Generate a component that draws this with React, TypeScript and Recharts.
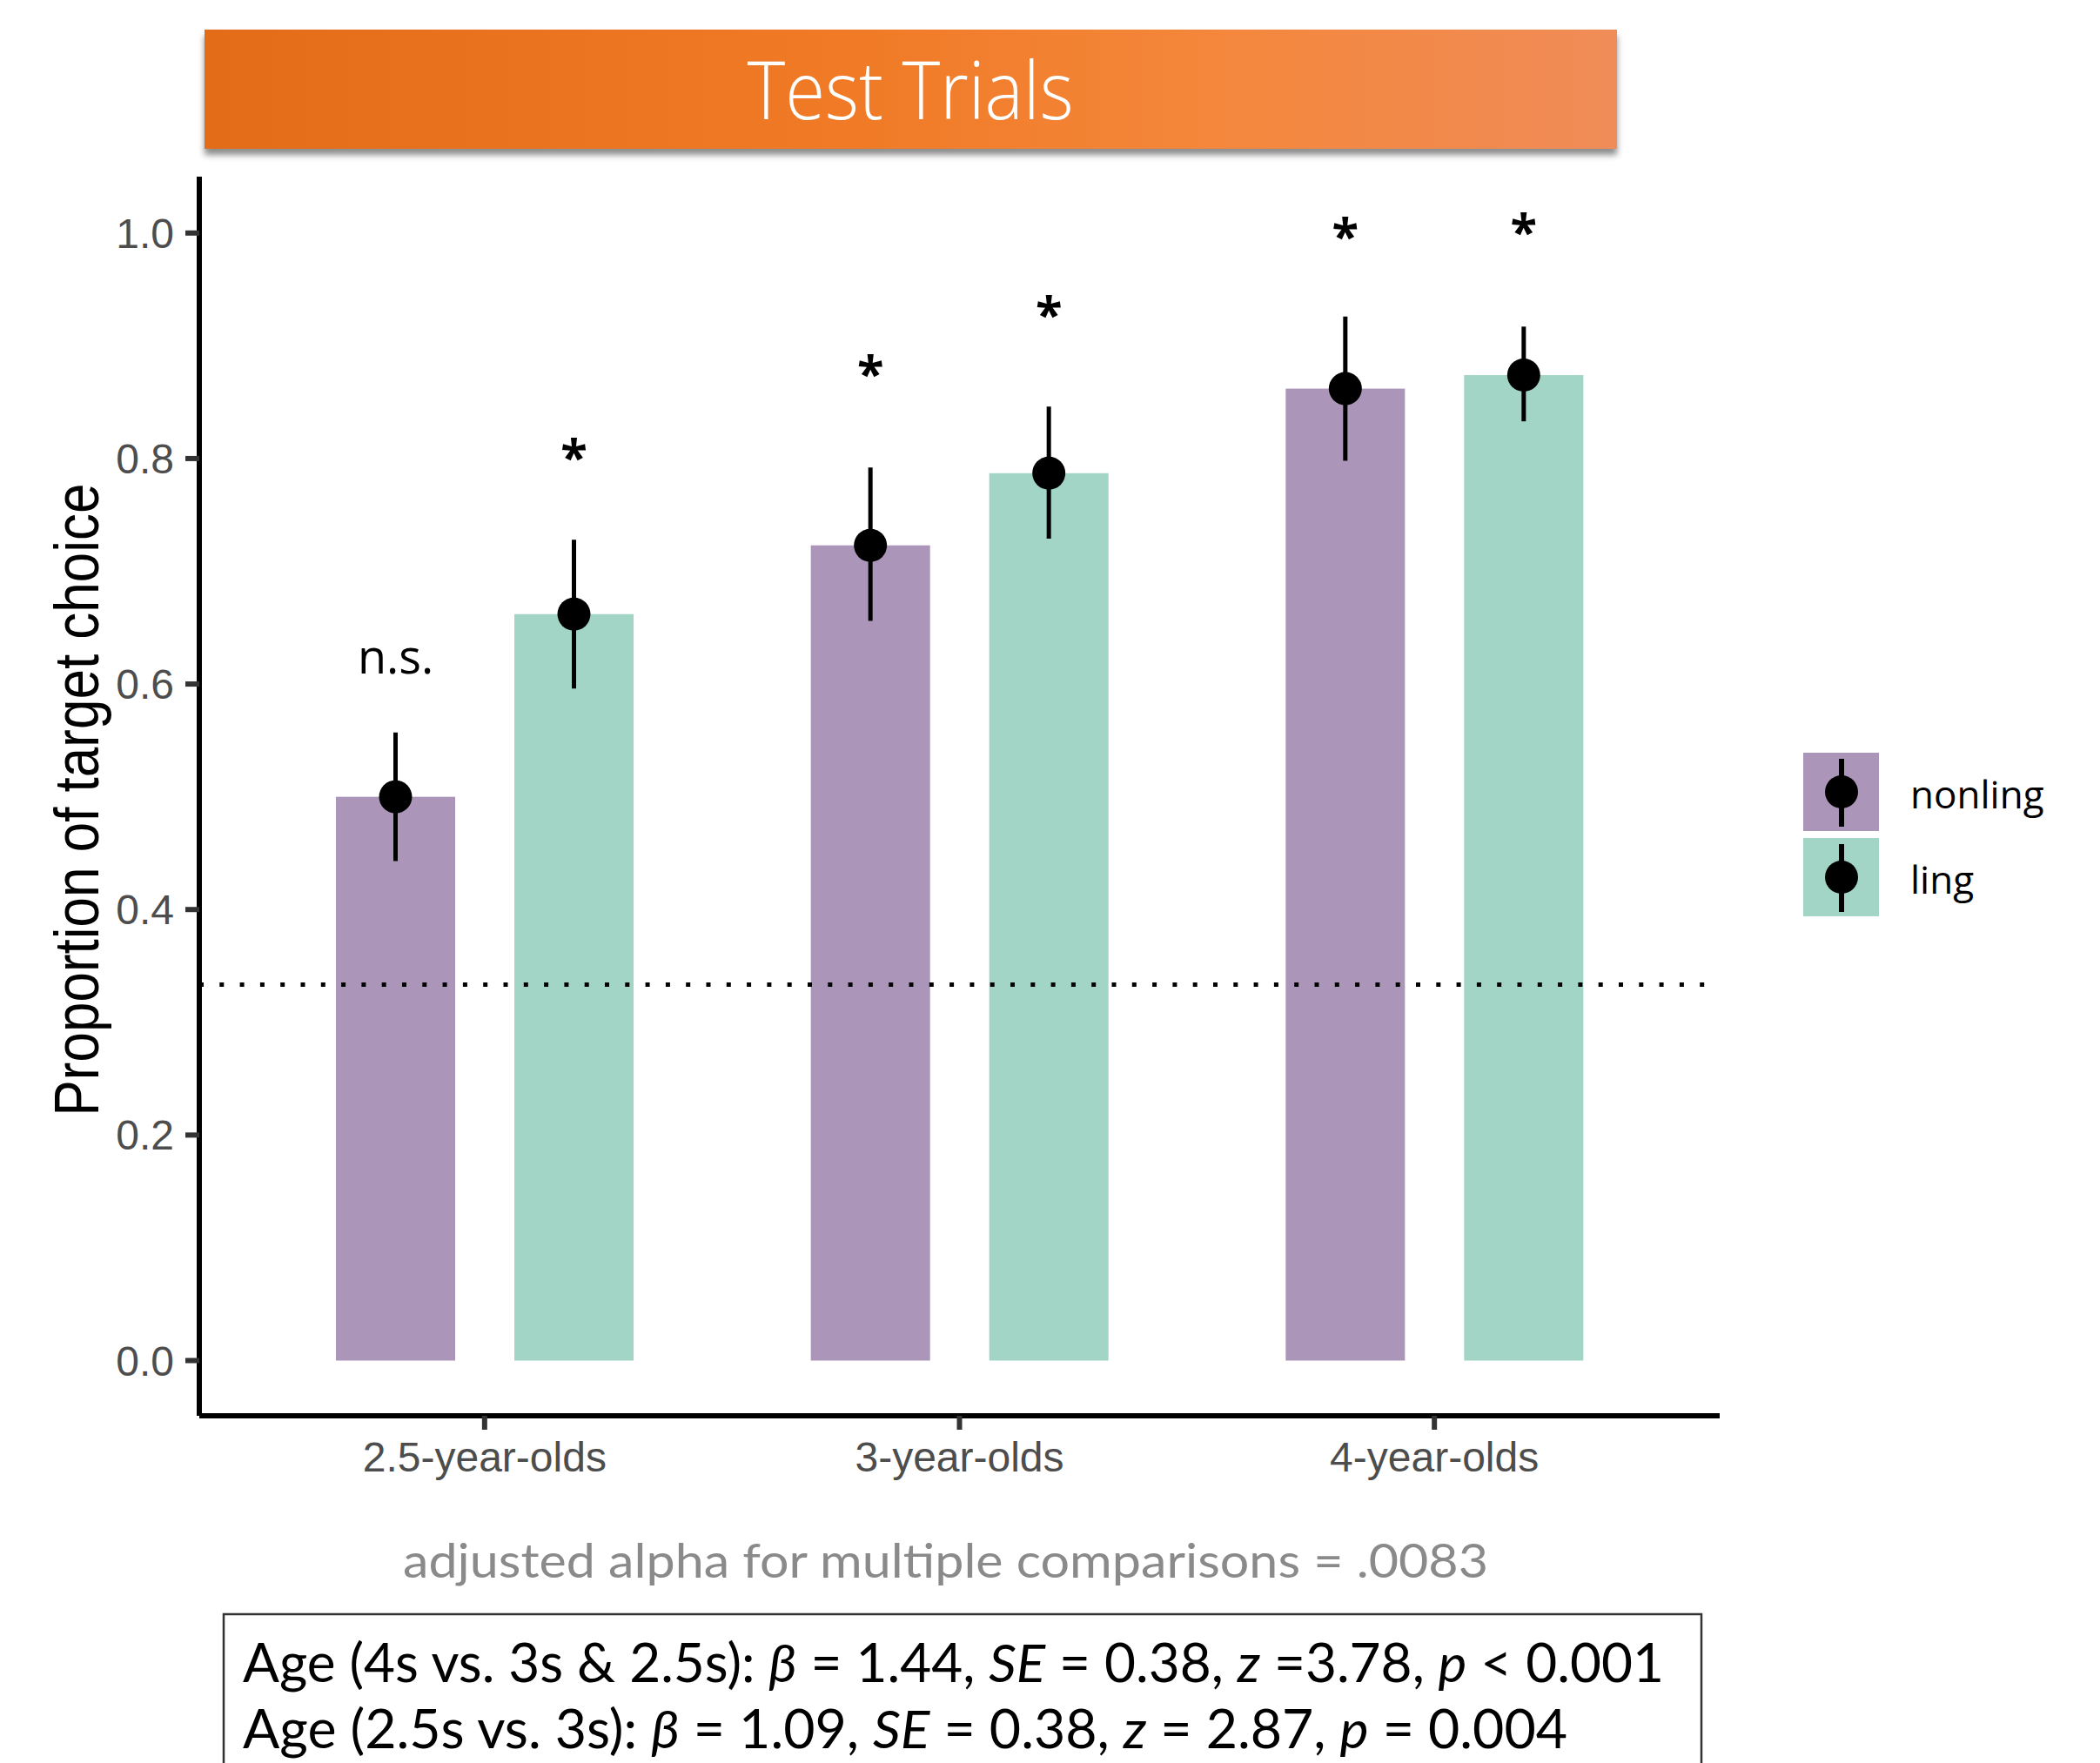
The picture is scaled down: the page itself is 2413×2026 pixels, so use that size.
import React from 'react';
import {
  ComposedChart,
  Bar,
  XAxis,
  YAxis,
  ErrorBar,
  LabelList,
  ReferenceLine,
  Legend,
} from 'recharts';

const ageGroups = ['2.5-year-olds', '3-year-olds', '4-year-olds'];

const nonlingMean = [0.5, 0.723, 0.862];
const nonlingLow = [0.443, 0.656, 0.798];
const nonlingHigh = [0.557, 0.792, 0.926];

const lingMean = [0.662, 0.787, 0.874];
const lingLow = [0.596, 0.729, 0.833];
const lingHigh = [0.728, 0.846, 0.917];

// significance marks and the height they sit at
const nonlingSig = ['n.s.', '*', '*'];
const nonlingSigY = [0.621, 0.885, 1.007];
const lingSig = ['*', '*', '*'];
const lingSigY = [0.811, 0.937, 1.011];

const chanceLevel = 1 / 3;
const yTicks = [0, 0.2, 0.4, 0.6, 0.8, 1.0];
const legendOrder = ['nonling', 'ling'];

const PURPLE = '#ab96b9';
const TEAL = '#a2d5c6';

const data = ageGroups.map((age, i) => ({
  age,
  nonling: nonlingMean[i],
  nonlingErr: [nonlingMean[i] - nonlingLow[i], nonlingHigh[i] - nonlingMean[i]],
  nonlingSigY: nonlingSigY[i],
  ling: lingMean[i],
  lingErr: [lingMean[i] - lingLow[i], lingHigh[i] - lingMean[i]],
  lingSigY: lingSigY[i],
}));

const BarWithPoint = (p: any) => (
  <g>
    <rect x={p.x} y={p.y} width={p.width} height={p.height} fill={p.fill} />
    <circle cx={p.x + p.width / 2} cy={p.y} r={19} fill="#000" />
  </g>
);

const sigLabel = (labels: string[], means: number[]) => (p: any) => {
  const i = p.index;
  const pxPerUnit = p.height / means[i];
  const cy = p.y + p.height - p.value * pxPerUnit;
  const txt = labels[i];
  const star = txt === '*';
  return (
    <text
      x={p.x + p.width / 2}
      y={cy + (star ? 32 : 15)}
      textAnchor="middle"
      fontFamily="'Open Sans', sans-serif"
      fontWeight={star ? 700 : 400}
      fontSize={star ? 56 : 54}
      fill="#000"
    >
      {txt}
    </text>
  );
};

const XTick = ({ x, y, payload }: any) => (
  <text x={x} y={y} textAnchor="middle" fontFamily="'Liberation Sans', Arial, sans-serif" fontSize={48} fill="#4d4d4d">
    {payload.value}
  </text>
);

const YTick = ({ x, y, payload }: any) => (
  <text x={x} y={y} dy={17} textAnchor="end" fontFamily="'Liberation Sans', Arial, sans-serif" fontSize={48} fill="#4d4d4d">
    {Number(payload.value).toFixed(1)}
  </text>
);

const renderLegend = (props: any) => {
  const items = [...(props.payload || [])].sort(
    (a: any, b: any) => legendOrder.indexOf(a.value) - legendOrder.indexOf(b.value)
  );
  return (
    <svg width={330} height={190}>
      {items.map((it: any, i: number) => {
        const top = i * 98;
        return (
          <g key={it.value}>
            <rect x={0} y={top} width={87} height={90} fill={it.color} />
            <line x1={44} y1={top + 7} x2={44} y2={top + 85} stroke="#000" strokeWidth={6} />
            <circle cx={44} cy={top + 45} r={19} fill="#000" />
            <text x={123} y={top + 64} fontFamily="'Open Sans', sans-serif" fontSize={44} fill="#000">
              {it.value}
            </text>
          </g>
        );
      })}
    </svg>
  );
};

export default function App() {
  return (
    <div style={{ position: 'absolute', left: 0, top: 0, width: 2413, height: 2026, background: '#fff', overflow: 'hidden' }}>
      <div
        style={{
          position: 'absolute',
          left: 235,
          top: 34,
          width: 1623,
          height: 137,
          background: 'linear-gradient(90deg, #e36c18 0%, #f07a25 45%, #f4873c 72%, #f08c58 100%)',
          boxShadow: '0 7px 7px rgba(0,0,0,0.45)',
        }}
      />
      <div style={{ position: 'absolute', left: 0, top: 0 }}>
        <ComposedChart
          width={2413}
          height={1760}
          data={data}
          margin={{ top: 203, right: 437, bottom: 33, left: 0 }}
          barGap={68}
        >
          <XAxis
            dataKey="age"
            type="category"
            padding={{ left: 55, right: 55 }}
            height={100}
            axisLine={{ stroke: '#000', strokeWidth: 6 }}
            tickLine={{ stroke: '#333', strokeWidth: 6 }}
            tickSize={16}
            tickMargin={48}
            tick={<XTick />}
          />
          <YAxis
            type="number"
            width={229}
            domain={[-0.049, 1.05]}
            allowDataOverflow
            ticks={yTicks}
            axisLine={{ stroke: '#000', strokeWidth: 6 }}
            tickLine={{ stroke: '#333', strokeWidth: 6 }}
            tickSize={16}
            tickMargin={13}
            tick={<YTick />}
          />
          <Legend
            layout="horizontal"
            verticalAlign="middle"
            align="center"
            content={renderLegend}
            wrapperStyle={{ left: 2072, top: 865, width: 330, height: 190 }}
          />
          <Bar dataKey="nonling" name="nonling" fill={PURPLE} barSize={137} shape={BarWithPoint} isAnimationActive={false}>
            <ErrorBar dataKey="nonlingErr" width={0} stroke="#000" strokeWidth={5} direction="y" />
            <LabelList dataKey="nonlingSigY" content={sigLabel(nonlingSig, nonlingMean)} />
          </Bar>
          <Bar dataKey="ling" name="ling" fill={TEAL} barSize={137} shape={BarWithPoint} isAnimationActive={false}>
            <ErrorBar dataKey="lingErr" width={0} stroke="#000" strokeWidth={5} direction="y" />
            <LabelList dataKey="lingSigY" content={sigLabel(lingSig, lingMean)} />
          </Bar>
          <ReferenceLine y={chanceLevel} stroke="#000" strokeWidth={5} strokeDasharray="5 18.3" />
        </ComposedChart>
      </div>
      <svg width={2413} height={2026} style={{ position: 'absolute', left: 0, top: 0, pointerEvents: 'none' }}>
        <text
          x={1046}
          y={137}
          textAnchor="middle"
          fontFamily="'Open Sans', sans-serif"
          fontWeight={300}
          fontSize={92}
          fill="#fff"
          textLength={375}
          lengthAdjust="spacingAndGlyphs"
        >
          Test Trials
        </text>
        <text
          transform="translate(113, 919) scale(1.18, 1) rotate(-90)"
          textAnchor="middle"
          fontFamily="'Liberation Sans', Arial, sans-serif"
          fontSize={62}
          fill="#000"
        >
          Proportion of target choice
        </text>
        <text
          x={463}
          y={1813}
          fontFamily="Lato, sans-serif"
          fontSize={55}
          fill="#8a8a8a"
          textLength={1247}
          lengthAdjust="spacingAndGlyphs"
        >
          adjusted alpha for multiple comparisons = .0083
        </text>
        <rect x={257} y={1855} width={1698} height={220} fill="none" stroke="#333" strokeWidth={2.5} />
        <text x={279} y={1933} fontFamily="Lato, sans-serif" fontSize={61} fill="#000" textLength={1633} lengthAdjust="spacingAndGlyphs">
          Age (4s vs. 3s &amp; 2.5s): <tspan fontStyle="italic">β</tspan> = 1.44, <tspan fontStyle="italic">SE</tspan> = 0.38,{' '}
          <tspan fontStyle="italic">z</tspan> =3.78, <tspan fontStyle="italic">p</tspan> &lt; 0.001
        </text>
        <text x={279} y={2009} fontFamily="Lato, sans-serif" fontSize={61} fill="#000" textLength={1522} lengthAdjust="spacingAndGlyphs">
          Age (2.5s vs. 3s): <tspan fontStyle="italic">β</tspan> = 1.09, <tspan fontStyle="italic">SE</tspan> = 0.38,{' '}
          <tspan fontStyle="italic">z</tspan> = 2.87, <tspan fontStyle="italic">p</tspan> = 0.004
        </text>
      </svg>
    </div>
  );
}
